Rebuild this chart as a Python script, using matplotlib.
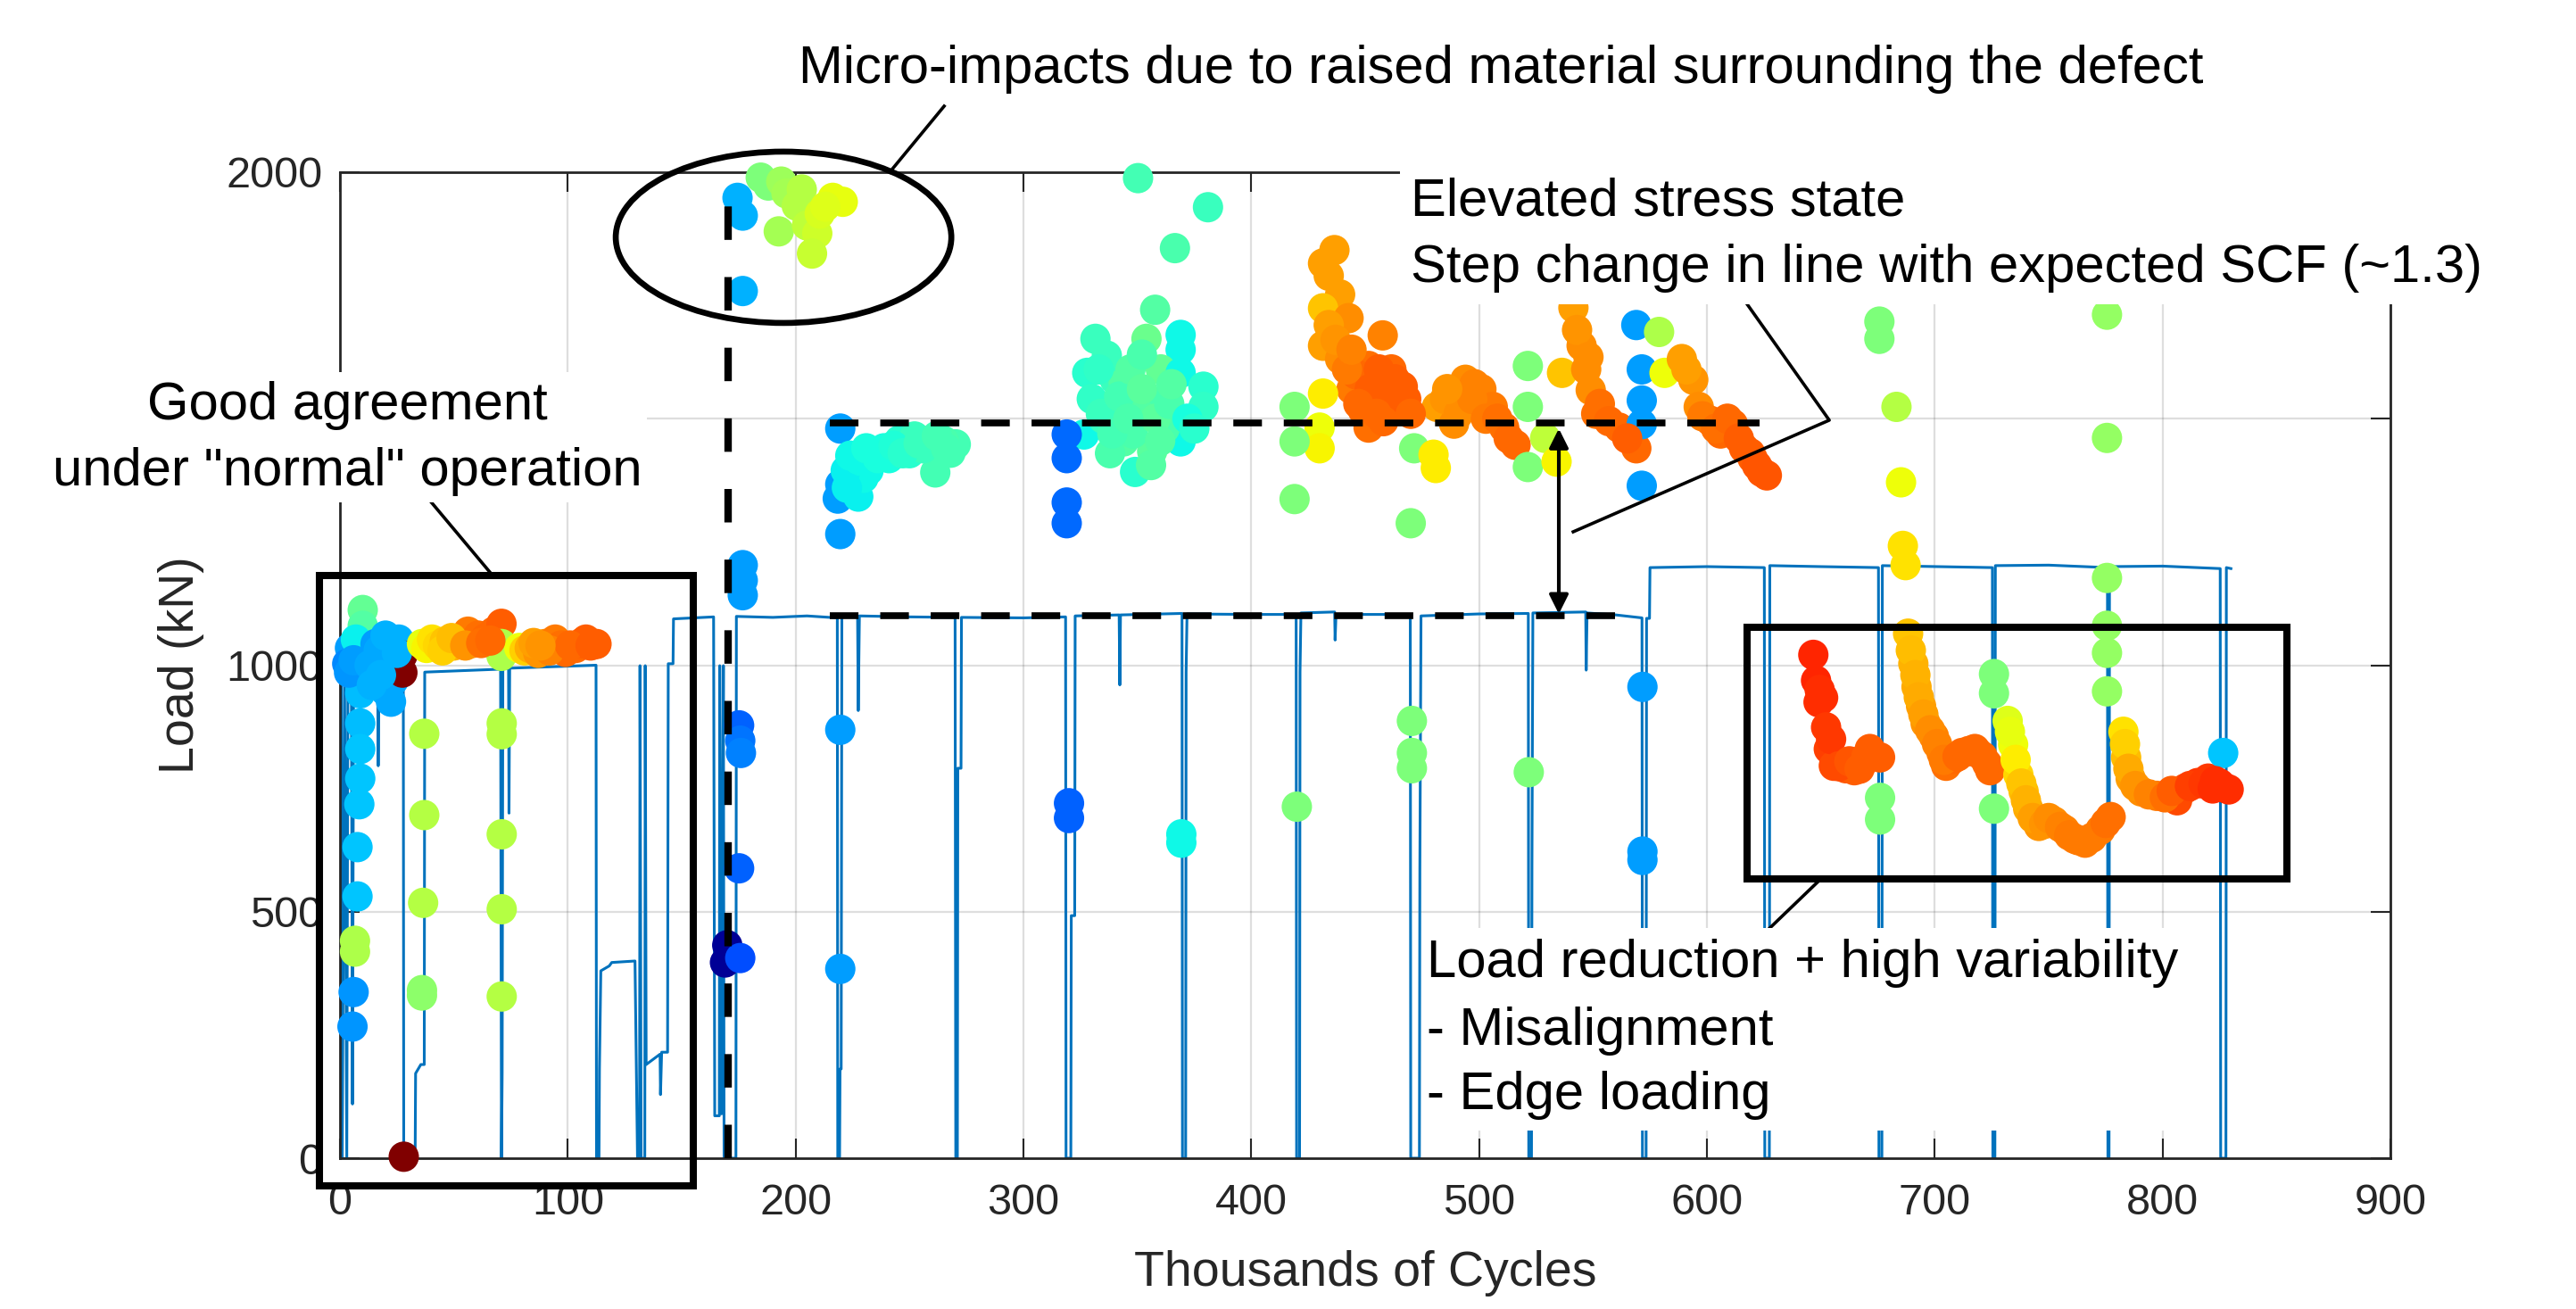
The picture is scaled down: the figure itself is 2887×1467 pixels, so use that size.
import matplotlib
matplotlib.use('Agg')
import matplotlib.pyplot as plt
from matplotlib.patches import Rectangle, Ellipse

plt.rcParams['font.family'] = ['Liberation Sans', 'DejaVu Sans']

# ---- load trace (thousands of cycles, kN), vertices
trace_k = [0, 0.5, 1, 2, 3, 3.5, 5, 5.5, 6, 16.5, 16.8, 17.2, 27.8, 28, 33, 33.2, 35.5, 37, 37.2,
           70.5, 70.9, 71.2, 71.5, 74, 74.2, 74.5, 112.4, 112.6, 113.7, 113.9, 114.5, 118.2, 119.3,
           129.5, 130.6, 131.5, 131.7, 132.2, 133.8, 134, 134.4, 140.5, 140.7, 141.2, 143.8, 144.1,
           146.2, 146.4, 164, 164.5, 166.5, 166.7, 167.5, 168.3, 168.6, 173.8,
           174, 190, 205, 218.3, 218.5, 219.3, 219.5, 220, 220.3, 227.2, 227.5, 228, 250, 270,
           270.3, 271, 271.2, 272.6, 272.8, 300, 318.5, 318.7, 320.8, 321, 322.5, 322.7, 342, 342.3,
           342.6, 369.6, 369.8, 371.2, 371.4, 371.8, 400, 419.7, 419.9, 421.2, 421.4, 421.8, 436.6,
           436.8, 437.2, 469.8, 470, 473.8, 474, 474.5, 500, 521.6, 521.8, 523, 523.2, 523.6, 546.8,
           547, 547.4, 560, 571.5, 571.7, 573.3, 573.5, 574.8, 575, 600, 625.2, 625.4, 627.4, 627.6,
           650, 675.3, 675.5, 676.8, 677, 700, 725.3, 725.5, 726.4, 726.6, 750, 775.8, 776, 776.5,
           776.7, 800, 825.3, 825.5, 827.8, 828, 830]
trace_load = [0, 1000, 0, 1000, 0, 1000, 1000, 110, 1000, 995, 796, 995, 1000, 0, 0, 172, 190, 190, 986,
              992, 0, 172, 992, 994, 700, 994, 1000, 0, 0, 181, 380, 390, 397,
              400, 0, 0, 999, 0, 0, 999, 190, 211, 129, 215, 215, 1003,
              1003, 1094, 1098, 86, 86, 999, 90, 999, 0, 0,
              1099, 1097, 1100, 1096, 0, 0, 181, 181, 1098, 1100, 908, 1100, 1098, 1097,
              0, 0, 791, 791, 1097, 1096, 1098, 0, 0, 492, 492, 1100, 1102, 960,
              1102, 1105, 0, 0, 986, 1104, 1103, 1103, 0, 0, 986, 1106, 1108,
              1051, 1103, 1103, 0, 0, 588, 1100, 1104, 1105, 0, 0, 596, 1106, 1108,
              990, 1106, 1102, 1096, 0, 0, 1095, 1095, 1198, 1200, 1198, 0, 0, 1202,
              1200, 1198, 0, 0, 1202, 1200, 1198, 0, 0, 1202, 1203, 1198, 0, 0,
              1200, 1201, 1196, 0, 0, 1198, 1196]

# ---- strain-gauge estimates (x, load, colour value on jet scale)
normal_k = [4.4, 3.2, 10, 10, 7, 15.6, 25.8, 22.4, 10, 9, 20.1, 23.5, 22.4, 8.9, 8.9, 8.9, 8.9, 8.5,
            7.7, 7.7, 6.6, 6.6, 6.0, 5.5, 27.4, 27.4, 28,
            4, 6, 13, 17, 18, 25, 14, 20,
            36, 38, 40.4, 43, 46, 50, 53, 56.2, 58, 60.7, 64, 67.5, 70.9, 70.9, 70.9, 78.7, 81, 83.3,
            87, 90, 94.5, 97, 99, 103.5, 106, 108, 112.6,
            45, 49, 55, 62, 66, 85, 92, 101, 110, 88,
            37, 37, 36.5, 36, 36, 71, 71, 71, 71, 71]
normal_load = [1035, 1003, 1112, 1080, 1052, 1043, 1052, 1019, 971, 947, 947, 969, 926, 943, 882, 830, 770, 718,
               631, 531, 441, 419, 337, 267, 1020, 985, 3,
               985, 1010, 1000, 1030, 980, 1025, 960, 1060,
               1043, 1035, 1052, 1040, 1048, 1040, 1050, 1068, 1045, 1060, 1055, 1068, 1084, 1043, 1019, 1035, 1030, 1035,
               1025, 1043, 1052, 1040, 1027, 1035, 1045, 1052, 1043,
               1030, 1055, 1040, 1045, 1050, 1045, 1030, 1040, 1040, 1040,
               861, 696, 518, 341, 330, 882, 860, 657, 505, 328]
normal_c = [0.28, 0.26, 0.47, 0.45, 0.36, 0.28, 0.30, 0.28, 0.30, 0.31, 0.30, 0.29, 0.29, 0.31, 0.31, 0.32, 0.32, 0.32,
            0.32, 0.32, 0.56, 0.56, 0.27, 0.27, 1.0, 1.0, 1.0,
            0.27, 0.28, 0.29, 0.29, 0.30, 0.30, 0.30, 0.30,
            0.63, 0.65, 0.67, 0.68, 0.70, 0.72, 0.74, 0.78, 0.77, 0.79, 0.80, 0.80, 0.81, 0.56, 0.56, 0.64, 0.69, 0.73,
            0.75, 0.76, 0.78, 0.79, 0.80, 0.80, 0.81, 0.81, 0.81,
            0.69, 0.71, 0.75, 0.79, 0.80, 0.74, 0.77, 0.80, 0.81, 0.75,
            0.57, 0.57, 0.57, 0.52, 0.52, 0.57, 0.57, 0.57, 0.57, 0.57]

impact_k = [174.5, 176.8, 176.8, 184.7, 188, 193.7, 196, 200.5, 202.7, 192.6, 205, 209.5, 207.2, 210.6,
            216.3, 220.7, 213]
impact_load = [1948, 1912, 1759, 1989, 1973, 1981, 1957, 1932, 1965, 1880, 1892, 1876, 1835, 1916,
               1948, 1940, 1930]
impact_c = [0.30, 0.30, 0.30, 0.50, 0.50, 0.54, 0.55, 0.57, 0.57, 0.55, 0.58, 0.60, 0.59, 0.61,
            0.63, 0.63, 0.62]

dip_k = [176.8, 176.8, 176.8, 175.2, 175.7, 176, 175.2, 170, 169, 175.7, 219.6, 219.6, 320, 320,
         369.3, 369.3, 420, 470.5, 470.5, 470.5, 521.8, 571.7, 571.7, 571.7]
dip_load = [1203, 1172, 1142, 878, 847, 822, 588, 432, 397, 406, 869, 384, 720, 690,
            657, 640, 713, 887, 822, 791, 783, 956, 622, 605]
dip_c = [0.28, 0.28, 0.28, 0.22, 0.24, 0.25, 0.22, 0.02, 0.02, 0.20, 0.28, 0.28, 0.22, 0.22,
         0.37, 0.37, 0.50, 0.50, 0.50, 0.50, 0.50, 0.28, 0.28, 0.28]

elevated_k = [219.6, 219.6, 218.5, 219.6, 225.3, 227.5, 229.8, 234.3, 238.8, 245.5, 252.2, 259, 261.3, 268,
              270.3, 241, 250, 232, 256, 265,
              222, 224, 228, 231, 236, 243, 247, 254, 262, 266, 222.5,
              350.3, 381, 366.5, 357.8, 331.6, 354, 369, 369, 336.6, 328, 340, 344, 360.3, 369, 379, 356,
              379, 351, 326.6, 344, 356.5, 369, 349, 356, 335, 362, 348, 338, 319, 319, 319, 319,
              330, 334, 342, 347, 352, 358, 364, 372, 375, 339, 333, 346, 365, 352, 360,
              436.5, 431.5, 434, 439, 431.5, 442.7, 434, 457.7, 431.5, 439, 451.5, 461.5, 466.5, 455,
              449, 464, 451.5, 444, 458, 431.5, 430, 430, 419, 419, 419, 481.5, 494, 501, 489, 506,
              511, 516, 471.5, 480, 481, 470, 521.4, 521.4, 521.4, 529, 534, 536.4, 541.4, 545, 547,
              549, 551.4, 561.4, 569, 569, 571.4, 571.4, 571.4, 571.4, 579, 581.4, 589, 594, 596.4,
              601.4, 611.4, 616.3, 624, 626.3, 606, 620,
              446, 452, 456, 460, 463, 468, 447, 455, 442, 437, 444, 470, 458,
              485, 491, 497, 503, 508, 513, 498, 486,
              553, 557, 565, 543, 548,
              591, 598, 604, 609, 614, 619, 622]
elevated_load = [1480, 1367, 1338, 1266, 1407, 1342, 1380, 1431, 1440, 1456, 1464, 1448, 1391, 1431,
                 1448, 1420, 1430, 1395, 1440, 1455,
                 1395, 1425, 1415, 1440, 1420, 1445, 1430, 1450, 1465, 1440, 1360,
                 1988, 1929, 1846, 1721, 1662, 1662, 1670, 1640, 1628, 1593, 1580, 1572, 1600, 1593, 1565, 1537,
                 1524, 1510, 1468, 1454, 1434, 1454, 1392, 1406, 1500, 1480, 1470, 1430, 1468, 1420, 1330, 1288,
                 1540, 1510, 1545, 1600, 1560, 1500, 1530, 1500, 1480, 1470, 1600, 1500, 1570, 1630, 1455,
                 1842, 1815, 1790, 1752, 1724, 1704, 1690, 1669, 1648, 1621, 1607, 1600, 1565, 1545,
                 1517, 1524, 1482, 1560, 1580, 1551, 1482, 1440, 1524, 1454, 1337, 1524, 1579, 1560, 1490, 1524,
                 1482, 1447, 1440, 1427, 1400, 1288, 1607, 1524, 1402, 1461, 1413, 1593, 1725, 1648, 1600,
                 1558, 1510, 1482, 1440, 1690, 1600, 1537, 1489, 1364, 1676, 1593, 1621, 1579, 1524,
                 1496, 1489, 1440, 1392, 1385, 1470, 1420,
                 1590, 1560, 1600, 1540, 1580, 1540, 1530, 1510, 1600, 1660, 1640, 1510, 1495,
                 1540, 1510, 1540, 1500, 1500, 1460, 1570, 1560,
                 1530, 1495, 1460, 1680, 1625,
                 1600, 1505, 1480, 1500, 1460, 1430, 1405]
elevated_c = [0.28, 0.28, 0.28, 0.28, 0.37, 0.36, 0.37, 0.38, 0.38, 0.40, 0.42, 0.43, 0.43, 0.43,
              0.43, 0.38, 0.40, 0.37, 0.42, 0.44,
              0.36, 0.37, 0.37, 0.38, 0.38, 0.39, 0.40, 0.42, 0.43, 0.43, 0.36,
              0.43, 0.42, 0.44, 0.45, 0.42, 0.48, 0.37, 0.37, 0.42, 0.40, 0.42, 0.45, 0.47, 0.37, 0.40, 0.44,
              0.41, 0.45, 0.37, 0.45, 0.46, 0.37, 0.40, 0.45, 0.42, 0.44, 0.44, 0.44, 0.23, 0.23, 0.23, 0.23,
              0.41, 0.42, 0.43, 0.45, 0.46, 0.46, 0.44, 0.38, 0.40, 0.43, 0.41, 0.44, 0.45, 0.44, 0.45,
              0.74, 0.74, 0.74, 0.74, 0.70, 0.76, 0.74, 0.77, 0.74, 0.76, 0.79, 0.80, 0.81, 0.81,
              0.80, 0.81, 0.79, 0.78, 0.80, 0.66, 0.64, 0.65, 0.50, 0.50, 0.50, 0.74, 0.76, 0.77, 0.76, 0.78,
              0.79, 0.80, 0.50, 0.66, 0.66, 0.50, 0.50, 0.50, 0.50, 0.58, 0.65, 0.70, 0.74, 0.76, 0.76,
              0.76, 0.79, 0.80, 0.80, 0.28, 0.28, 0.28, 0.28, 0.28, 0.56, 0.64, 0.74, 0.75, 0.76,
              0.79, 0.80, 0.81, 0.82, 0.82, 0.80, 0.81,
              0.80, 0.81, 0.81, 0.81, 0.81, 0.81, 0.80, 0.80, 0.78, 0.75, 0.77, 0.80, 0.80,
              0.75, 0.76, 0.77, 0.78, 0.79, 0.80, 0.77, 0.75,
              0.79, 0.80, 0.81, 0.75, 0.76,
              0.74, 0.78, 0.79, 0.80, 0.81, 0.81, 0.82]

reduced_k = [675.7, 675.7, 683.2, 685.2, 686, 687.2, 775.6, 775.6, 775.6, 775.6, 775.6, 775.6,
             646.7, 647.9, 651, 649, 652.3, 653.5, 655.7, 661, 664.7, 668, 671.5, 676, 676, 676,
             688.3, 690.6, 692, 694, 696, 699.6, 703, 705, 708, 712, 717.6, 721, 724.3, 726, 726, 726,
             732, 734.4, 736.7, 739, 741, 745.7, 752.4, 757, 761.4, 766, 772.7, 777.2,
             782.8, 784, 786, 790.6, 797.4, 806.4, 810, 815.4, 820, 825, 829, 826.6,
             649.5, 654.5, 658, 662.5, 667, 673, 670,
             689.5, 691.5, 693, 695, 698, 701, 704, 710, 715, 719, 723,
             733, 735.5, 738, 740, 743, 748, 750, 755, 759, 763, 769, 775,
             783.5, 785, 788, 794, 801, 804, 812, 818, 823, 827, 822]
reduced_load = [1697, 1662, 1524, 1371, 1242, 1203, 1711, 1461, 1177, 1080, 1025, 947,
                1021, 969, 934, 925, 874, 830, 796, 791, 787, 800, 830, 813, 731, 687,
                1064, 1003, 956, 917, 882, 856, 822, 796, 810, 822, 830, 815, 787, 982, 943, 709,
                887, 839, 778, 744, 709, 674, 683, 666, 648, 640, 666, 692,
                865, 813, 770, 744, 735, 726, 750, 761, 770, 760, 748, 822,
                950, 850, 795, 805, 790, 820, 815,
                1030, 980, 935, 900, 868, 840, 808, 815, 826, 822, 800,
                865, 808, 760, 726, 690, 678, 690, 672, 655, 645, 650, 680,
                840, 790, 755, 738, 732, 745, 755, 760, 765, 752, 750]
reduced_c = [0.50, 0.50, 0.57, 0.64, 0.67, 0.67, 0.53, 0.53, 0.53, 0.53, 0.53, 0.53,
             0.87, 0.87, 0.86, 0.86, 0.85, 0.84, 0.83, 0.82, 0.81, 0.81, 0.81, 0.81, 0.50, 0.50,
             0.70, 0.72, 0.73, 0.74, 0.75, 0.77, 0.78, 0.79, 0.80, 0.80, 0.80, 0.80, 0.80, 0.50, 0.50, 0.50,
             0.62, 0.64, 0.68, 0.71, 0.73, 0.75, 0.76, 0.77, 0.78, 0.78, 0.78, 0.79,
             0.67, 0.71, 0.74, 0.76, 0.78, 0.83, 0.83, 0.85, 0.85, 0.86, 0.86, 0.32,
             0.86, 0.85, 0.83, 0.82, 0.81, 0.81, 0.81,
             0.71, 0.72, 0.73, 0.74, 0.76, 0.77, 0.78, 0.80, 0.80, 0.80, 0.80,
             0.63, 0.66, 0.70, 0.72, 0.74, 0.75, 0.76, 0.77, 0.78, 0.78, 0.78, 0.79,
             0.69, 0.73, 0.75, 0.77, 0.79, 0.81, 0.84, 0.85, 0.86, 0.86, 0.86]

W, H = 2887, 1467


def fx(px):
    return px / W


def fy(py):
    return 1 - py / H


fig = plt.figure(figsize=(W / 100, H / 100), dpi=100)
ax = fig.add_axes([fx(381), fy(1298), (2679 - 381) / W, (1298 - 193) / H])

axcol = '#262626'
ax.grid(True, color=axcol, alpha=0.15, lw=1.6, zorder=0)
ax.set_axisbelow(True)

ax.plot(trace_k, trace_load, color='#0072BD', lw=2.2, zorder=2)

for kk, ll, cc in [(normal_k, normal_load, normal_c), (impact_k, impact_load, impact_c),
                   (dip_k, dip_load, dip_c), (elevated_k, elevated_load, elevated_c),
                   (reduced_k, reduced_load, reduced_c)]:
    ax.scatter(kk, ll, c=cc, cmap='jet', vmin=0, vmax=1, s=600, linewidths=0,
               zorder=3, clip_on=False)

# reference levels
ax.plot([170.5, 170.5], [0, 1955], color='black', lw=6, ls=(0, (4.5, 5)), zorder=4, clip_on=False)
ax.plot([215, 623], [1492, 1492], color='black', lw=5.5, ls=(0, (4.2, 3.2)), zorder=4)
ax.plot([215, 561], [1100, 1100], color='black', lw=5.5, ls=(0, (4.2, 3.2)), zorder=4)
ax.annotate('', xy=(535, 1480), xytext=(535, 1104),
            arrowprops=dict(arrowstyle='<|-|>', color='black', lw=3, mutation_scale=32,
                            shrinkA=0, shrinkB=0), zorder=5)

# annotation shapes
ax.add_patch(Rectangle((-9.2, -57), 164.1, 1238, fill=False, ec='black', lw=5.8,
                       clip_on=False, zorder=5))
ax.add_patch(Rectangle((617.5, 566), 237.2, 511, fill=False, ec='black', lw=5.8,
                       clip_on=False, zorder=5))
ax.add_patch(Ellipse((194.7, 1868), 147.3, 347.5, fill=False, ec='black', lw=4.8,
                     clip_on=False, zorder=5))
ax.plot([67.2, 40.2], [1181, 1330], color='black', lw=2.6, clip_on=False, zorder=5)
ax.plot([241.3, 265.2], [2000, 2134], color='black', lw=2.6, clip_on=False, zorder=5)
ax.plot([617.7, 653.7, 541.3], [1732, 1497, 1270.6], color='black', lw=2.6, clip_on=False, zorder=5)
ax.plot([649, 626.5], [562, 462], color='black', lw=2.6, clip_on=False, zorder=5)

ax.set_xlim(0, 900)
ax.set_ylim(0, 2000)
ax.set_xticks(range(0, 901, 100))
ax.set_yticks([0, 500, 1000, 1500, 2000])
ax.set_yticklabels(['0', '500', '1000', '', '2000'])  # 1500 sits under the callout
ax.tick_params(direction='in', top=True, right=True, length=15.5, width=1.5,
               colors=axcol, labelsize=35)
ax.tick_params(axis='x', pad=20)
ax.tick_params(axis='y', pad=14)
for sp in ax.spines.values():
    sp.set_color(axcol)
    sp.set_linewidth(2)

ax.set_xlabel('Thousands of Cycles', fontsize=40, color=axcol)
ax.set_ylabel('Load (kN)', fontsize=40, color=axcol)
ax.xaxis.label.set_va('center')
ax.yaxis.label.set_va('center')
ax.xaxis.set_label_coords(0.5, (1298 - 1427) / 1105)
ax.yaxis.set_label_coords((203 - 381) / 2298, 0.5)

# white backgrounds behind the callout texts
for x0, y0, x1, y1 in [(55, 417, 725, 563), (1569, 150, 2887, 341), (1594, 1040, 2455, 1267)]:
    fig.add_artist(Rectangle((fx(x0), fy(y1)), (x1 - x0) / W, (y1 - y0) / H,
                             transform=fig.transFigure, fc='white', ec='none', zorder=1))

tk = dict(fontsize=43, color='black', va='baseline', zorder=3)
fig.text(fx(895), fy(93), 'Micro-impacts due to raised material surrounding the defect', ha='left', **tk)
fig.text(fx(389), fy(470), 'Good agreement', ha='center', **tk)
fig.text(fx(389), fy(544), 'under "normal" operation', ha='center', **tk)
fig.text(fx(1581), fy(242), 'Elevated stress state', ha='left', **tk)
fig.text(fx(1581), fy(316), 'Step change in line with expected SCF (~1.3)', ha='left', **tk)
fig.text(fx(1599), fy(1095), 'Load reduction + high variability', ha='left', **tk)
fig.text(fx(1599), fy(1171), '- Misalignment', ha='left', **tk)
fig.text(fx(1599), fy(1243), '- Edge loading', ha='left', **tk)

fig.savefig('out.png', dpi=100)
